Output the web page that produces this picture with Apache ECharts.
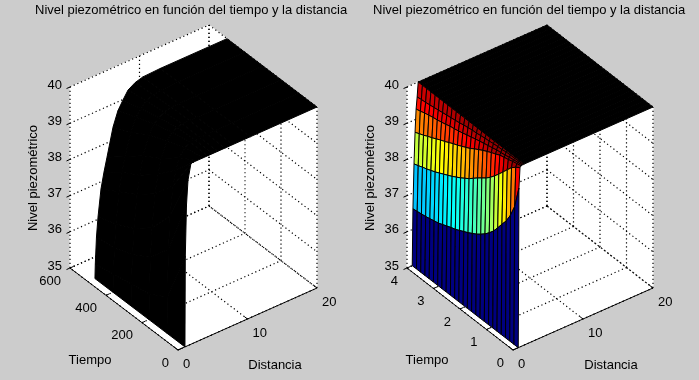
<!DOCTYPE html>
<html>
<head>
<meta charset="utf-8">
<style>html,body{margin:0;padding:0;background:#ccc}#chart{width:699px;height:380px}</style>
<script src="https://cdn.jsdelivr.net/npm/echarts@6/dist/echarts.min.js"></script>
</head>
<body>
<div id="chart"></div>
<script>
const titulo = 'Nivel piezométrico en función del tiempo y la distancia'
const ticksNivel = [35, 36, 37, 38, 39, 40]
const ticksDistancia = [0, 10, 20]
const ticksTiempoA = [0, 200, 400, 600]
const ticksTiempoB = [0, 1, 2, 3, 4]

// left surface, all black because the mesh is so dense
const tiempoA = [0, 100, 200, 300, 400, 500]
const distanciaA = [1, 1.05, 1.22, 1.44, 1.87, 2.3, 2.73, 3.6, 4.3, 5.04, 5.76, 6.8, 7.9, 10.4, 20]
const nivelA0 = [35, 37.5, 38.9, 39.57, 40, 40, 40, 40, 40, 40, 40, 40, 40, 40, 40]
const nivelA100 = [35, 36, 37.3, 38.2, 39, 39.4, 39.7, 39.9, 40, 40, 40, 40, 40, 40, 40]
const nivelA200 = [35, 35.7, 36.7, 37.5, 38.4, 38.9, 39.3, 39.7, 39.9, 39.95, 40, 40, 40, 40, 40]
const nivelA300 = [35, 35.6, 36.4, 37.1, 38, 38.5, 39, 39.5, 39.75, 39.85, 39.95, 40, 40, 40, 40]
const nivelA400 = [35, 35.5, 36.2, 36.85, 37.7, 38.2, 38.6, 39.2, 39.55, 39.72, 39.88, 39.95, 39.99, 40, 40]
const nivelA500 = [35, 35.4, 36.13, 36.66, 37.4, 37.83, 38.2, 38.96, 39.35, 39.59, 39.8, 39.92, 39.98, 40, 40]
const nivelA = [nivelA0, nivelA100, nivelA200, nivelA300, nivelA400, nivelA500]

// right surface, one row per distance
const tiempoB = [0, 0.16, 0.32, 0.48, 0.64, 0.8, 0.96, 1.12, 1.28, 1.44, 1.6, 1.76, 1.92, 2.08, 2.24, 2.4, 2.56, 2.72, 2.88, 3.04, 3.2, 3.36, 3.52, 3.68, 3.84, 4]
const distanciaB = [0.75, 0.85, 1, 1.15, 1.3, 1.45, 1.6, 20]
const nivelB0 = [35, 35, 35, 35, 35, 35, 35, 35, 35, 35, 35, 35, 35, 35, 35, 35, 35, 35, 35, 35, 35, 35, 35, 35, 35, 35]
const nivelB1 = [39.4, 38.8, 38.47, 38.22, 38.04, 37.85, 37.67, 37.53, 37.41, 37.31, 37.22, 37.15, 37.08, 37.02, 36.96, 36.9, 36.86, 36.81, 36.76, 36.71, 36.68, 36.65, 36.62, 36.6, 36.58, 36.56]
const nivelB2 = [39.95, 39.87, 39.77, 39.62, 39.47, 39.32, 39.18, 39.05, 38.94, 38.85, 38.76, 38.66, 38.56, 38.48, 38.4, 38.33, 38.26, 38.2, 38.14, 38.08, 38.02, 37.97, 37.92, 37.88, 37.83, 37.79]
const nivelB3 = [39.99, 39.96, 39.93, 39.89, 39.86, 39.83, 39.77, 39.72, 39.66, 39.6, 39.53, 39.46, 39.38, 39.32, 39.26, 39.2, 39.15, 39.09, 39.03, 38.98, 38.92, 38.86, 38.81, 38.75, 38.7, 38.65]
const nivelB4 = [40, 39.98, 39.96, 39.94, 39.91, 39.89, 39.87, 39.84, 39.81, 39.78, 39.75, 39.72, 39.68, 39.65, 39.61, 39.58, 39.55, 39.53, 39.49, 39.46, 39.43, 39.41, 39.38, 39.35, 39.31, 39.28]
const nivelB5 = [40, 40, 39.99, 39.99, 39.98, 39.96, 39.95, 39.94, 39.92, 39.91, 39.89, 39.87, 39.86, 39.84, 39.82, 39.79, 39.77, 39.75, 39.73, 39.71, 39.69, 39.67, 39.65, 39.63, 39.62, 39.6]
const nivelB6 = [40, 40, 40, 40, 40, 40, 40, 40, 40, 40, 40, 40, 40, 40, 40, 40, 40, 40, 40, 40, 40, 40, 40, 40, 40, 40]
const nivelB7 = [40, 40, 40, 40, 40, 40, 40, 40, 40, 40, 40, 40, 40, 40, 40, 40, 40, 40, 40, 40, 40, 40, 40, 40, 40, 40]
const nivelB = [nivelB0, nivelB1, nivelB2, nivelB3, nivelB4, nivelB5, nivelB6, nivelB7]

const fuente = '"Liberation Sans", Arial, sans-serif'
const tamano = 13

// matlab jet
function jet(z) {
  const v = Math.min(1, Math.max(0, (z - 35) / 5))
  const canal = c => Math.round(255 * Math.min(1, Math.max(0, 1.5 - Math.abs(4 * v - c))))
  return `rgb(${canal(3)},${canal(2)},${canal(1)})`
}

const panelA = {
  grid: 0, left: 70, width: 247, dxT: -108, dxD: 139, tMax: 600,
  ticksT: ticksTiempoA, nombreT: [90, 360], nombreD: [275, 365], nombreZ: [33, 178]
}
const panelB = {
  grid: 1, left: 407, width: 246, dxT: -106, dxD: 140, tMax: 4,
  ticksT: ticksTiempoB, nombreT: [427, 360], nombreD: [611, 365], nombreZ: [370, 178]
}

function dibujar(panel, superficie) {
  return function (params, api) {
    // box coords -> normalised plot coords -> pixels through the hidden axes
    const p = (t, d, z) => {
      const tn = t / panel.tMax, dn = d / 20, zn = (z - 35) / 5
      const u = (tn * panel.dxT + dn * panel.dxD - panel.dxT) / panel.width
      const v = (tn * 82 + dn * 62 + zn * 181) / 326
      return api.coord([u, v])
    }
    const tM = panel.tMax
    const hijos = []
    const poly = (pts, fill, stroke) => hijos.push({
      type: 'polygon', shape: { points: pts },
      style: { fill: fill, stroke: stroke || fill, lineWidth: 1 }
    })
    const linea = (a, b, punteada) => hijos.push({
      type: 'line',
      shape: { x1: a[0], y1: a[1], x2: b[0], y2: b[1] },
      style: { stroke: '#000', lineWidth: punteada ? 1.2 : 1, lineDash: punteada ? [1.2, 2.8] : null }
    })
    const texto = (x, y, s, align, rot) => hijos.push({
      type: 'text', x: x, y: y, rotation: rot || 0,
      style: { text: s, fill: '#000', font: tamano + 'px ' + fuente, align: align, verticalAlign: 'middle' }
    })

    // white walls and floor
    poly([p(0, 0, 35), p(tM, 0, 35), p(tM, 20, 35), p(0, 20, 35)], '#fff')
    poly([p(tM, 0, 35), p(tM, 0, 40), p(tM, 20, 40), p(tM, 20, 35)], '#fff')
    poly([p(tM, 20, 35), p(tM, 20, 40), p(0, 20, 40), p(0, 20, 35)], '#fff')

    // dotted grid
    ticksNivel.forEach(z => {
      linea(p(tM, 0, z), p(tM, 20, z), true)
      linea(p(tM, 20, z), p(0, 20, z), true)
    })
    ticksDistancia.forEach(d => {
      linea(p(tM, d, 35), p(tM, d, 40), true)
      linea(p(0, d, 35), p(tM, d, 35), true)
    })
    panel.ticksT.forEach(t => {
      linea(p(t, 20, 35), p(t, 20, 40), true)
      linea(p(t, 0, 35), p(t, 20, 35), true)
    })

    // surface, far quads first
    const { tiempo, distancia, nivel, negra, densa } = superficie
    for (let j = tiempo.length - 2; j >= 0; j--) {
      for (let i = distancia.length - 2; i >= 0; i--) {
        const pts = [
          p(tiempo[j], distancia[i], nivel[i][j]),
          p(tiempo[j + 1], distancia[i], nivel[i][j + 1]),
          p(tiempo[j + 1], distancia[i + 1], nivel[i + 1][j + 1]),
          p(tiempo[j], distancia[i + 1], nivel[i + 1][j])
        ]
        if (negra || i >= densa) poly(pts, '#000')
        else poly(pts, jet(nivel[i][j]), '#000')
      }
    }

    // axis lines, ticks, tick labels
    linea(p(0, 0, 35), p(tM, 0, 35))
    linea(p(0, 0, 35), p(0, 20, 35))
    ticksNivel.forEach(z => {
      const a = p(tM, 0, z)
      linea(a, p(tM, -0.5, z))
      texto(a[0] - 8, a[1] - 2, String(z), 'right')
    })
    panel.ticksT.forEach(t => {
      const a = p(t, 0, 35)
      linea(a, p(t, 0.5, 35))
      texto(a[0] - 9, a[1] + 13, String(t), 'right')
    })
    ticksDistancia.forEach(d => {
      const a = p(0, d, 35)
      linea(a, p(tM * 0.03, d, 35))
      texto(a[0] + 5, a[1] + 14, String(d), 'left')
    })

    texto(panel.nombreT[0], panel.nombreT[1], 'Tiempo', 'center')
    texto(panel.nombreD[0], panel.nombreD[1], 'Distancia', 'center')
    texto(panel.nombreZ[0], panel.nombreZ[1], 'Nivel piezométrico', 'center', Math.PI / 2)

    return { type: 'group', children: hijos }
  }
}

const chart = echarts.init(document.getElementById('chart'), null, { renderer: 'canvas' })
const ejeOculto = i => ({ type: 'value', min: 0, max: 1, show: false, gridIndex: i })

chart.setOption({
  animation: false,
  backgroundColor: '#cccccc',
  title: [
    { text: titulo, left: 35, top: 4, padding: 0, textStyle: { fontFamily: fuente, fontSize: tamano, fontWeight: 'normal', color: '#000' } },
    { text: titulo, left: 373, top: 4, padding: 0, textStyle: { fontFamily: fuente, fontSize: tamano, fontWeight: 'normal', color: '#000' } }
  ],
  grid: [
    { left: panelA.left, top: 24, width: panelA.width, height: 326 },
    { left: panelB.left, top: 24, width: panelB.width, height: 326 }
  ],
  xAxis: [ejeOculto(0), ejeOculto(1)],
  yAxis: [ejeOculto(0), ejeOculto(1)],
  series: [
    {
      type: 'custom', xAxisIndex: 0, yAxisIndex: 0, data: [[0, 0]], clip: false, silent: true,
      renderItem: dibujar(panelA, { tiempo: tiempoA, distancia: distanciaA, nivel: distanciaA.map((_, i) => nivelA.map(f => f[i])), negra: true })
    },
    {
      type: 'custom', xAxisIndex: 1, yAxisIndex: 1, data: [[0, 0]], clip: false, silent: true,
      renderItem: dibujar(panelB, { tiempo: tiempoB, distancia: distanciaB, nivel: nivelB, negra: false, densa: 6 })
    }
  ]
})
</script>
</body>
</html>
